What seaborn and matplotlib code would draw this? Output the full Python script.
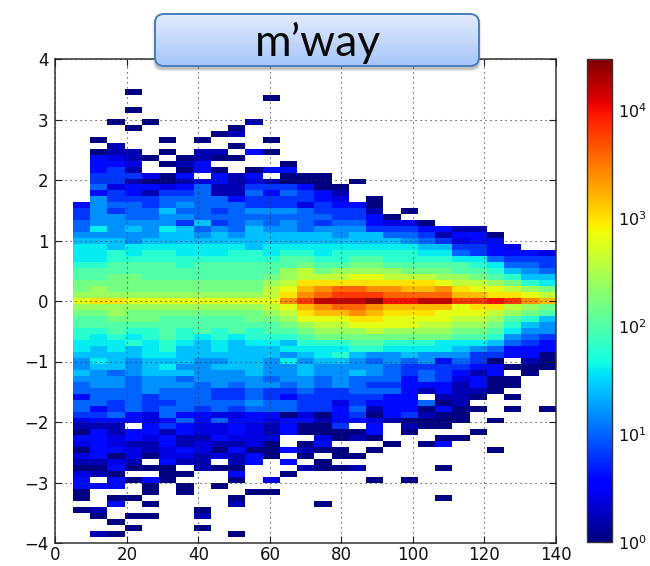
import numpy as np
import pandas as pd
import matplotlib
matplotlib.use("Agg")
import matplotlib.pyplot as plt
from matplotlib.colors import LogNorm, LinearSegmentedColormap
from matplotlib.patches import FancyBboxPatch
import seaborn as sns

# log10(count) per cell in steps of 0.2: 0 -> 1 count ... m -> ~2.5e4, "." is an empty bin
LEVELS = "0123456789abcdefghijklm"
LOG_STEP = 0.2

# rows from y=+3.46 (top) to y=-3.85, columns from x=4.8 to x=140
rows_upper = [
    "...0........................",
    "...........0................",
    "............................",
    "...0........................",
    "............................",
    "..0.0.....1.................",
    "...0.....0..................",
    "........01..................",
    ".0...0.0...0................",
    "..1......0..................",
    ".011.0.11.30................",
    ".3210.0100..................",
    ".332.013....0...............",
    ".341..030.033...............",
    ".444203.313.000.............",
    ".44100123121000.0...........",
    ".523323511444300............",
    ".343144511535431............",
    ".644455553444432.0..........",
    "365545655544424330..........",
    "464557554566654441.0........",
    "4665566555555554430.........",
]

left_mid = [
    "56666647456565", "58676875657665", "66666776767777", "77767777777777",
    "88788888887888", "88989988899899", "889999999999aa", "99aaaa9aaaaaab",
    "aaaaaaaaaaaacd", "aabbaaaaaaabcd", "bbbbbbbbbbbcdf", "bcbbbbbbbbbdeg",
    "cccccccccccdfh", "effeeeeeeeeehj", "cccccccccccdeg", "bbcbbbbbbbbcdf",
    "aabbbaaaaabbce", "aaaaaaaaaaaabc", "99a99a9a9a9aab", "98989a9898999a",
    "88898987878879", "87878977877788", "77778877777767", "68767776677686",
    "67767866777667", "76567776667667", "66656656666566", "56656665656656",
    "55556555445445", "35554555445434", "55454455556554", "53454554545554",
    "44532533223302", "23332353533233", "111.3432232130", "03133132232130",
    "332323113222..", "232113121120.0", "03321232030031", "230202212130.0",
    "1121.311.13.3.", "003000.100...1", "210..00..3..0.", "3.3030...0.2..",
    "333.0.0.0.....", "0...0.0...00..", "0.00.....0....", "..3.0....1....",
    "01.....0......", ".0.00..1......", "..0...........", "...0...0......",
    ".10......0....",
]
right_mid = [
    "4553220.......", "6664443311....", "76775541330...", "77777654233...",
    "888888774432..", "89999988543332", "99aa9999885444", "aabbaaaaa98554",
    "bccccbbbaa9765", "ddeedddccba977", "fffffffeddcb98", "hiihhgghfeedcb",
    "ijjjiiiiggffed", "lllmkklljjkjhg", "hiihggggeffdcb", "gghgfffeeedcba",
    "eeffeeeeddca97", "ddeeeeddccb976", "cccdccccbba866", "bbbbbbbbaa9654",
    "99aa9998887543", "88998888765333", "89766766644330", "77656563540.10",
    "66665444433000", "66765454313.0.", "565553542300..", "565443331300..",
    "44555313110...", "444433.110.0..", "424333501.....", "4351330300.0.0",
    "034034100.....", "133210000.0...", "04.3.100......", "0003.0...0....",
    "2010...00.....", "3...0.03......", "00.0......0...", ".00...........",
    "0.............", "001....0......", "..............", "...0.0........",
    "..............", "..............", ".......0......", "0.............",
    "..............", "..............", "..............", "..............",
    "..............",
]
rows_lower = [a + b for a, b in zip(left_mid, right_mid)]

x_ticks = [0, 20, 40, 60, 80, 100, 120, 140]
y_ticks = [4, 3, 2, 1, 0, -1, -2, -3, -4]
title_text = "m\u2019way"

N_X = 29   # bins over 0..140, first one is empty
N_Y = 81   # bins over -4..4
X_MAX = 140
VMAX = 3e4
W, H = 650, 566

rows = ["." * 28] * 5 + rows_upper + rows_lower + ["." * 28]
cells = [[np.nan] + [np.nan if c == "." else 10 ** (LEVELS.index(c) * LOG_STEP) for c in r[:28]] for r in rows]
df = pd.DataFrame(cells)

sns.set_style("white")
plt.rcParams["font.family"] = "DejaVu Sans"
plt.rcParams["mathtext.default"] = "regular"

fig = plt.figure(figsize=(W / 100, H / 100), dpi=100)
ax = fig.add_axes([55.5 / W, 1 - 543 / H, 500.5 / W, 484 / H])
cax = fig.add_axes([587 / W, 1 - 542 / H, 24.5 / W, 483 / H])

sns.heatmap(df, ax=ax, cbar_ax=cax, cmap="jet", norm=LogNorm(vmin=1, vmax=VMAX),
            xticklabels=False, yticklabels=False, linewidths=0)

ax.set_xticks([v / X_MAX * N_X for v in x_ticks])
ax.set_xticklabels([str(v) for v in x_ticks])
ax.set_yticks([(4 - v) / 8 * N_Y for v in y_ticks])
ax.set_yticklabels([str(v).replace("-", "\u2212") for v in y_ticks], rotation=0)
ax.set_xlabel("")
ax.set_ylabel("")
ax.tick_params(axis="both", direction="in", length=5, width=0.8, color="#222222", labelsize=12,
               top=True, right=True, bottom=True, left=True, pad=5, labelcolor="#111111")
ax.tick_params(axis="x", pad=2)
ax.set_axisbelow(False)
ax.grid(True, color="#333333", linestyle=(0, (1, 3.5)), linewidth=0.8)
for s in ax.spines.values():
    s.set_visible(True)
    s.set_color("#333333")
    s.set_linewidth(1.1)

cb = ax.collections[0].colorbar
cb.ax.minorticks_off()
cb.outline.set_visible(True)
cb.outline.set_edgecolor("#333333")
cb.outline.set_linewidth(1.0)
cb.ax.tick_params(direction="in", length=6, width=0.8, labelsize=11.5, pad=5, color="#222222", labelcolor="#111111")

# rounded title box over the top of the plot
over = fig.add_axes([0, 0, 1, 1], zorder=5)
over.patch.set_alpha(0)
over.axis("off")
box = dict(boxstyle="round,pad=0,rounding_size=9")
for grow, alpha in [(5, 0.05), (3.5, 0.07), (2, 0.10), (1, 0.14)]:
    over.add_patch(FancyBboxPatch((155 - grow / 2, 17 - grow / 2), 324 + grow, 52 + grow, fc="#404040",
                                  ec="none", alpha=alpha, **box))
frame = FancyBboxPatch((155, 14), 324, 52, fc="none", ec="#4a7ebb", lw=1.4, zorder=4, **box)
over.add_patch(frame)
shade = over.imshow(np.linspace(0, 1, 64).reshape(-1, 1), extent=(155, 479, 66, 14), aspect="auto", zorder=3,
                    cmap=LinearSegmentedColormap.from_list("box", ["#e2ebfc", "#a6c6fa"]))
shade.set_clip_path(frame)
over.set_xlim(0, W)
over.set_ylim(H, 0)
over.text(317.5, 55.5, title_text, ha="center", va="baseline", fontsize=32, family="Lato", color="#0a0a0a", zorder=6)

plt.savefig("out.png", dpi=100)
plt.close()
